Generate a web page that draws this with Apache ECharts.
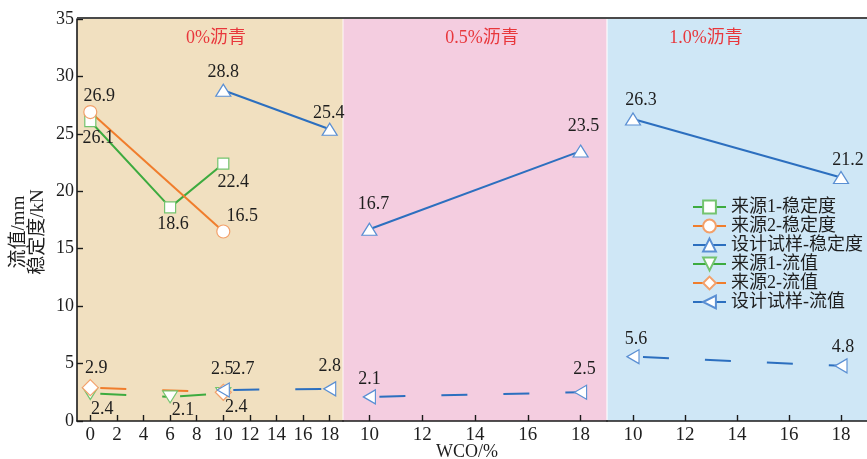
<!DOCTYPE html>
<html>
<head>
<meta charset="utf-8">
<script src="https://cdn.jsdelivr.net/npm/echarts@6.0.0/dist/echarts.min.js"></script>
<style>html,body{margin:0;padding:0;background:#fff}#c{width:867px;height:459px}</style>
</head>
<body>
<div id="c"></div>
<script>
// ---------- data ----------
const panelTitles = ['0%沥青', '0.5%沥青', '1.0%沥青'];
const xTicksP1 = [0, 2, 4, 6, 8, 10, 12, 14, 16, 18];
const xTicksP23 = [10, 12, 14, 16, 18];
const yTicks = [0, 5, 10, 15, 20, 25, 30, 35];

const wcoSrc1 = [0, 6, 10];
const src1Stab = [26.1, 18.6, 22.4];
const src1Flow = [2.4, 2.1, 2.4];

const wcoSrc2 = [0, 10];
const src2Stab = [26.9, 16.5];
const src2Flow = [2.9, 2.5];

const wcoDesign = [10, 18];
const designStab0 = [28.8, 25.4];
const designFlow0 = [2.7, 2.8];
const designStab05 = [16.7, 23.5];
const designFlow05 = [2.1, 2.5];
const designStab10 = [26.3, 21.2];
const designFlow10 = [5.6, 4.8];

const names = ['来源1-稳定度', '来源2-稳定度', '设计试样-稳定度', '来源1-流值', '来源2-流值', '设计试样-流值'];

// ---------- styles ----------
const GREEN = '#3dab3f', GREEN_B = '#74c46f';
const ORANGE = '#f07d2c', ORANGE_B = '#f3a06a';
const BLUE = '#2c6fbf', BLUE_B = '#5a8fd3';
const SERIF = '"Liberation Serif","Times New Roman","Noto Sans CJK SC",serif';
const labelFont = { fontFamily: SERIF, fontSize: 18, color: '#1e1e1e' };

// label placements (style only)
const L = {
  src1Stab: [['bottom', [8, -3]], ['bottom', [3, -3]], ['bottom', [10, -2]]],
  src2Stab: [['top', [9, 5]], ['top', [19, 6]]],
  dStab0: [['top', [0, 3]], ['top', [-1, 5]]],
  dStab05: [['top', [4, -4]], ['top', [3, -4]]],
  dStab10: [['top', [8, 2]], ['top', [7, 3]]],
  src1Flow: [['bottom', [12, -5]], ['bottom', [13, -7]], ['bottom', [13, -7]]],
  src2Flow: [['top', [6, 3]], ['top', [-1, 0]]],
  dFlow0: [['top', [20, 1]], ['top', [0, -1]]],
  dFlow05: [['top', [0, 4]], ['top', [4, -1]]],
  dFlow10: [['top', [3, 4]], ['top', [2, 3]]]
};

function pts(xs, ys, lab) {
  return xs.map((x, i) => ({
    value: [x, ys[i]],
    label: { position: lab[i][0], offset: lab[i][1] }
  }));
}

function markerSeries(name, gi, xs, ys, lab, color, border, symbol, size, rot, hideLine) {
  return {
    type: 'line', name: name, xAxisIndex: gi, yAxisIndex: gi,
    data: pts(xs, ys, lab),
    symbol: symbol, symbolSize: size, symbolRotate: rot || 0, showAllSymbol: true,
    itemStyle: { color: '#ffffff', borderColor: border, borderWidth: 1.2 },
    lineStyle: { color: color, width: 2, opacity: hideLine ? 0 : 1 },
    label: Object.assign({ show: true, distance: 5 }, labelFont),
    z: 3, animation: false
  };
}

function dashSegments(name, gi, xs, ys, color) {
  const out = [];
  for (let i = 0; i < xs.length - 1; i++) {
    out.push({
      type: 'line', name: name, xAxisIndex: gi, yAxisIndex: gi,
      data: [[xs[i], ys[i]], [xs[i + 1], ys[i + 1]]],
      symbol: 'none', silent: true,
      lineStyle: { color: color, width: 2, type: [26, 36], dashOffset: 52 },
      z: 2, animation: false
    });
  }
  return out;
}

const series = [];
// stability
series.push(markerSeries(names[0], 0, wcoSrc1, src1Stab, L.src1Stab, GREEN, GREEN_B, 'rect', 11));
series.push(markerSeries(names[1], 0, wcoSrc2, src2Stab, L.src2Stab, ORANGE, ORANGE_B, 'circle', 13));
series.push(markerSeries(names[2], 0, wcoDesign, designStab0, L.dStab0, BLUE, BLUE_B, 'triangle', [15, 12]));
series.push(markerSeries(names[2], 1, wcoDesign, designStab05, L.dStab05, BLUE, BLUE_B, 'triangle', [15, 12]));
series.push(markerSeries(names[2], 2, wcoDesign, designStab10, L.dStab10, BLUE, BLUE_B, 'triangle', [15, 12]));
// flow (markers first, dashed segments after)
series.push(markerSeries(names[3], 0, wcoSrc1, src1Flow, L.src1Flow, GREEN, GREEN_B, 'triangle', [15, 12], 180, true));
series.push(markerSeries(names[4], 0, wcoSrc2, src2Flow, L.src2Flow, ORANGE, ORANGE_B, 'diamond', 16, 0, true));
series.push(markerSeries(names[5], 0, wcoDesign, designFlow0, L.dFlow0, BLUE, BLUE_B, 'triangle', [14, 12], 90, true));
series.push(markerSeries(names[5], 1, wcoDesign, designFlow05, L.dFlow05, BLUE, BLUE_B, 'triangle', [14, 12], 90, true));
series.push(markerSeries(names[5], 2, wcoDesign, designFlow10, L.dFlow10, BLUE, BLUE_B, 'triangle', [14, 12], 90, true));
series.push(...dashSegments(names[3], 0, wcoSrc1, src1Flow, GREEN));
series.push(...dashSegments(names[4], 0, wcoSrc2, src2Flow, ORANGE));
series.push(...dashSegments(names[5], 0, wcoDesign, designFlow0, BLUE));
series.push(...dashSegments(names[5], 1, wcoDesign, designFlow05, BLUE));
series.push(...dashSegments(names[5], 2, wcoDesign, designFlow10, BLUE));

const TOP = 19, H = 402;
const grids = [
  { left: 77, top: TOP, width: 266, height: H, show: true, backgroundColor: '#f1e0c0', borderWidth: 0 },
  { left: 343, top: TOP, width: 264, height: H, show: true, backgroundColor: '#f4cde0', borderWidth: 0 },
  { left: 607, top: TOP, width: 264, height: H, show: true, backgroundColor: '#cfe7f6', borderWidth: 0 }
];

function xAxis(gi, min, max, ticks) {
  return {
    type: 'value', gridIndex: gi, min: min, max: max,
    axisLine: { show: true, onZero: false, lineStyle: { color: '#1a1a1a', width: 1.6 } },
    axisTick: { show: true, inside: true, length: 6, customValues: ticks, lineStyle: { color: '#1a1a1a', width: 1.4 } },
    axisLabel: { show: true, customValues: ticks, margin: 5, fontFamily: SERIF, fontSize: 19, color: '#1e1e1e' },
    splitLine: { show: false }
  };
}
function yAxis(gi, show) {
  return {
    type: 'value', gridIndex: gi, min: 0, max: 35, interval: 5, show: show,
    axisLine: { show: true, onZero: false, lineStyle: { color: '#1a1a1a', width: 1.6 } },
    axisTick: { show: true, inside: true, length: 6, lineStyle: { color: '#1a1a1a', width: 1.4 } },
    axisLabel: { show: true, margin: 3, fontFamily: SERIF, fontSize: 18, color: '#1e1e1e',
      formatter: v => (yTicks.indexOf(v) >= 0 ? String(v) : '') },
    splitLine: { show: false }
  };
}

const titleX = [216, 482, 706];
const graphic = [
  { type: 'line', shape: { x1: 77, y1: 18, x2: 867, y2: 18 }, style: { stroke: '#4a4a4a', lineWidth: 2 }, z: 100 },
  { type: 'line', shape: { x1: 343, y1: 19, x2: 343, y2: 420 }, style: { stroke: 'rgba(255,255,255,0.85)', lineWidth: 1 }, z: 1 },
  { type: 'line', shape: { x1: 607, y1: 19, x2: 607, y2: 420 }, style: { stroke: 'rgba(255,255,255,0.9)', lineWidth: 1.2 }, z: 1 },
  { type: 'text', x: 467, y: 452, style: { text: 'WCO/%', font: '18px ' + SERIF, fill: '#1e1e1e', align: 'center', verticalAlign: 'middle' } },
  { type: 'text', x: 29, y: 232, rotation: Math.PI / 2,
    style: { text: '流值/mm\n稳定度/kN', font: '19px ' + SERIF, fill: '#1e1e1e', align: 'center', verticalAlign: 'middle', lineHeight: 19 } }
].concat(panelTitles.map((t, i) => ({
  type: 'text', x: titleX[i], y: 38,
  style: { text: t, font: '18px ' + SERIF, fill: '#e8373c', align: 'center', verticalAlign: 'middle' }
})));

const chart = echarts.init(document.getElementById('c'), null, { renderer: 'canvas' });
chart.setOption({
  animation: false,
  grid: grids,
  xAxis: [xAxis(0, -1, 19, xTicksP1), xAxis(1, 9, 19, xTicksP23), xAxis(2, 9, 19, xTicksP23)],
  yAxis: [yAxis(0, true), yAxis(1, false), yAxis(2, false)],
  legend: {
    data: names, orient: 'vertical', left: 687, top: 193,
    itemWidth: 33, itemHeight: 16, itemGap: 1,
    textStyle: { fontFamily: SERIF, fontSize: 18, color: '#1e1e1e' },
    lineStyle: { type: 'solid', width: 2, opacity: 1 },
    selectedMode: false
  },
  graphic: graphic,
  series: series
});
</script>
</body>
</html>
